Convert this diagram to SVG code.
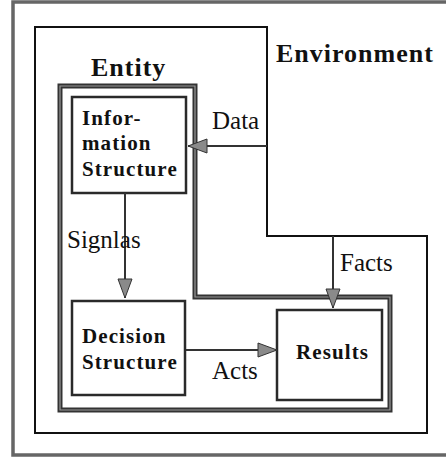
<svg xmlns="http://www.w3.org/2000/svg" width="446" height="458" viewBox="0 0 446 458">
<defs>
<style>
.frame{fill:none;stroke:#666;stroke-width:3.5}
.env{fill:none;stroke:#111;stroke-width:2}
.ent{fill:none;stroke:#333;stroke-width:5;stroke-linejoin:miter}
.ent2{fill:none;stroke:#999;stroke-width:1.2}
.box{fill:#fff;stroke:#2a2a2a;stroke-width:2.5}
.conn{fill:none;stroke:#333;stroke-width:2}
.lbl{font-family:"Liberation Serif",serif;font-size:25px;fill:#111}
.title{font-family:"Liberation Serif",serif;font-size:26px;font-weight:bold;letter-spacing:1px;fill:#111}
.btxt{font-family:"Liberation Serif",serif;font-size:21px;font-weight:bold;letter-spacing:1.1px;fill:#111}
</style>
<marker id="ah" markerUnits="userSpaceOnUse" markerWidth="22" markerHeight="18" refX="20" refY="8" orient="auto">
<path d="M1,1 L20,8 L1,15 Z" fill="#8a8a8a" stroke="#333" stroke-width="1"/>
</marker>
</defs>
<rect id="outer-frame" class="frame" x="13" y="2" width="440" height="453"/>
<g id="environment">
<path class="env" d="M35,27 H267 V236 H427 V433 H35 Z"/>
<text class="title" x="276" y="62">Environment</text>
</g>
<g id="entity">
<path class="ent" d="M60,86 H195 V297 H390 V410 H60 Z"/>
<path class="ent2" d="M60,86 H195 V297 H390 V410 H60 Z"/>
<text class="title" x="91" y="76" letter-spacing="0.8">Entity</text>
</g>
<g id="information-structure">
<rect class="box" x="72" y="97" width="114" height="96"/>
<text class="btxt" x="82" y="125" letter-spacing="1.2">Infor-</text>
<text class="btxt" x="82" y="150" letter-spacing="0.3">mation</text>
<text class="btxt" x="82" y="176">Structure</text>
</g>
<g id="decision-structure">
<rect class="box" x="72" y="301" width="113" height="94"/>
<text class="btxt" x="82" y="343" letter-spacing="2">Decision</text>
<text class="btxt" x="82" y="369">Structure</text>
</g>
<g id="results">
<rect class="box" x="277" y="310" width="105" height="90"/>
<text class="btxt" x="296" y="359" letter-spacing="1.9">Results</text>
</g>
<g id="connectors">
<line class="conn" x1="267" y1="146" x2="188" y2="146" stroke="#555" marker-end="url(#ah)"/>
<line class="conn" x1="125" y1="193" x2="125" y2="298" stroke="#111" marker-end="url(#ah)"/>
<line class="conn" x1="333" y1="236" x2="333" y2="308" stroke="#111" marker-end="url(#ah)"/>
<line class="conn" x1="186" y1="350" x2="277" y2="350" stroke="#555" marker-end="url(#ah)"/>
<text class="lbl" x="212" y="129">Data</text>
<text class="lbl" x="67" y="248">Signlas</text>
<text class="lbl" x="340" y="271">Facts</text>
<text class="lbl" x="212" y="379">Acts</text>
</g>
</svg>
